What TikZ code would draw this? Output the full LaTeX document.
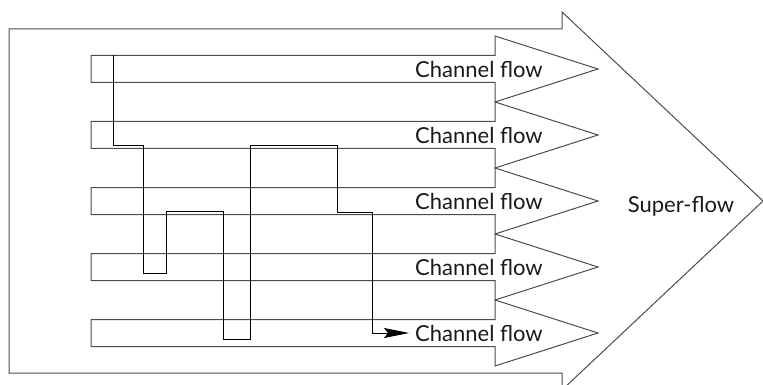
\documentclass[tikz,border=0pt]{standalone}
\usepackage{fontspec}
\setmainfont{Lato}
\usetikzlibrary{arrows.meta}
\begin{document}
\begin{tikzpicture}[x=1pt,y=-1pt,
  outline/.style={draw=black!70,line width=1pt,line join=miter},
  lbl/.style={font=\fontsize{22}{26}\selectfont,text=black!90,inner sep=0pt},
  route/.style={draw=black,line width=0.9pt,-{Stealth[length=25pt,width=10pt,inset=4pt]}}]
\useasboundingbox (0,0) rectangle (763,385);
% super-flow arrow
\draw[outline] (9,29) -- (562,29) -- (562,12) -- (763,201) -- (562,390) -- (562,373) -- (9,373) -- cycle;
\node[lbl] (super) at (681,206) {Super-flow};
% channel arrows
\foreach \c/\n in {69/1,135/2,201/3,267/4,333/5}{
  \draw[outline] (91,\c-13.5) -- (495,\c-13.5) -- (495,\c-33) -- (598,\c) -- (495,\c+33) -- (495,\c+13.5) -- (91,\c+13.5) -- cycle;
  \node[lbl,anchor=west] (lab\n) at (415,\c) {Channel flow};
}
% route
\coordinate (start) at (113,55);
\draw[route] (start) -- (113,145) -- (143,145) -- (143,273) -- (166,273) -- (166,211)
  -- (223,211) -- (223,339) -- (250,339) -- (250,145) -- (337,145) -- (337,212)
  -- (372,212) -- (372,333) -- ([xshift=-6pt]lab5.west |- 0,333);
\end{tikzpicture}
\end{document}
